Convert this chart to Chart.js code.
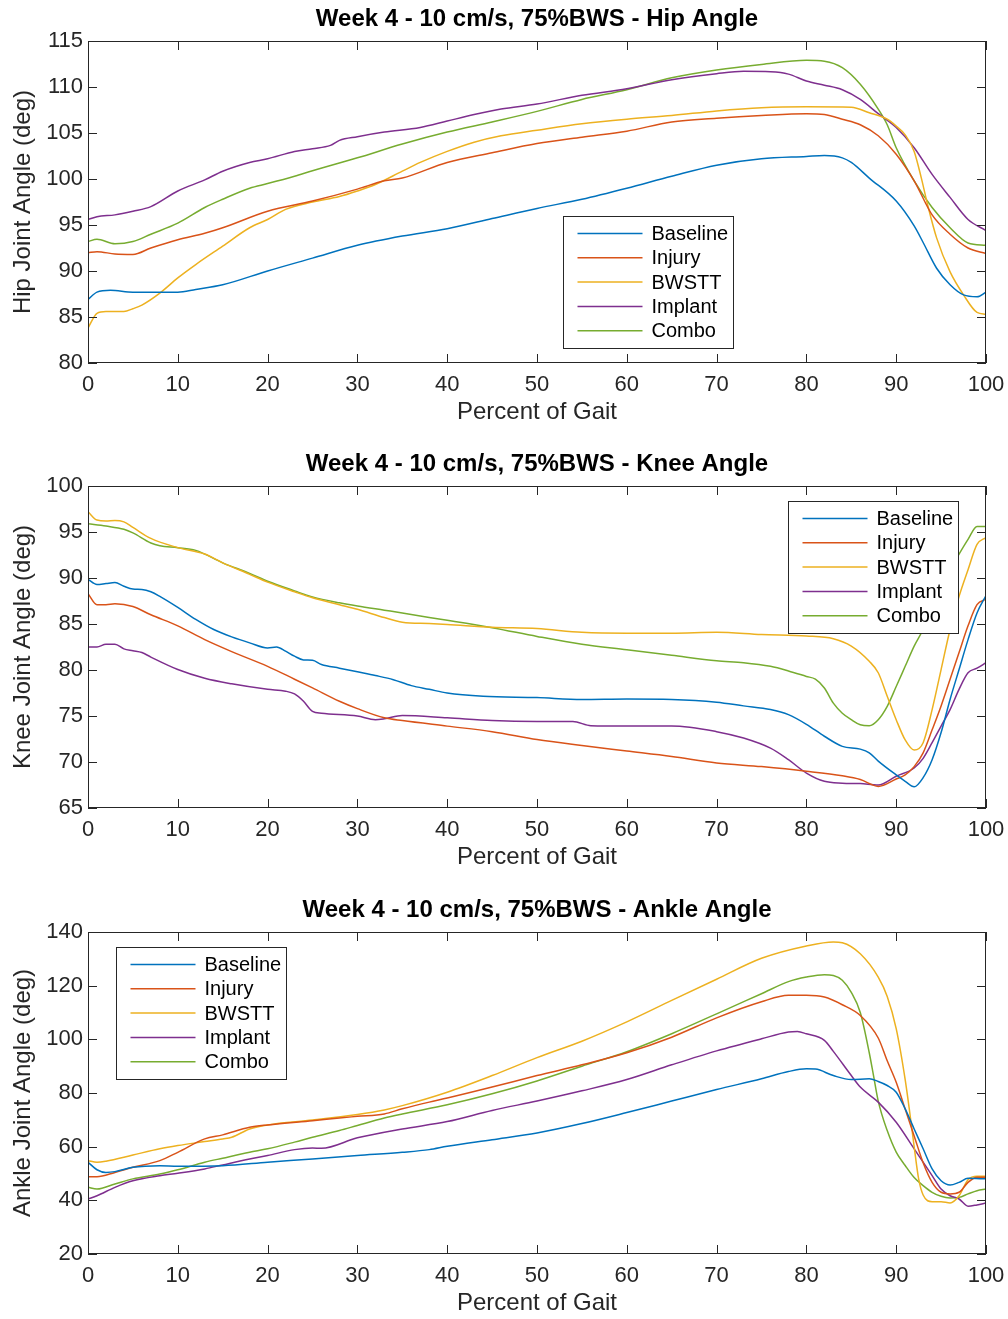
<!DOCTYPE html>
<html>
<head>
<meta charset="utf-8">
<script src="https://cdn.jsdelivr.net/npm/chart.js@4/dist/chart.umd.min.js"></script>
<style>
  html, body { margin: 0; padding: 0; background: #fff; overflow: hidden; }
  canvas { position: absolute; left: 0; }
</style>
</head>
<body>
<canvas id="hipChart" width="1008" height="440" style="top:0px"></canvas>
<canvas id="kneeChart" width="1008" height="440" style="top:445px"></canvas>
<canvas id="ankleChart" width="1008" height="440" style="top:891px"></canvas>
<script>
const FONT = "'Liberation Sans', Arial, Helvetica, sans-serif";
const seriesNames = ["Baseline", "Injury", "BWSTT", "Implant", "Combo"];
const seriesColors = ["#0072BD", "#D95319", "#EDB120", "#7E2F8E", "#77AC30"];
const xLabel = "Percent of Gait";

// [percent of gait, angle in deg]
const hipBaseline = [[0,86.9],[1,87.7],[2.5,87.9],[5,87.7],[10,87.7],[12,88.0],[15,88.5],[20,90.0],[25,91.4],[30,92.8],[35,93.8],[40,94.6],[45,95.7],[50,96.8],[55,97.8],[60,99.0],[65,100.3],[70,101.5],[75,102.2],[80,102.45],[82,102.55],[84,102.3],[85,101.8],[87,100.1],[90,97.6],[92,94.9],[93,93.1],[94.5,90.3],[96,88.5],[97.5,87.4],[99,87.2],[100,87.7]];
const hipInjury = [[0,92.0],[1,92.1],[3,91.85],[5,91.8],[7,92.5],[10,93.4],[13,94.1],[15,94.7],[20,96.5],[25,97.6],[30,98.9],[33,99.8],[35,100.1],[40,101.8],[45,102.85],[50,103.85],[55,104.55],[60,105.2],[65,106.2],[70,106.6],[75,106.9],[80,107.1],[82,107.0],[84,106.5],[86,105.9],[88,104.7],[90,102.7],[92,99.8],[94,96.1],[96,94.0],[98,92.5],[100,91.9]];
const hipBWSTT = [[0,83.8],[1,85.4],[2,85.6],[4,85.6],[5,85.9],[6,86.3],[8,87.6],[10,89.25],[12,90.7],[15,92.7],[18,94.7],[20,95.6],[22,96.7],[25,97.5],[28,98.1],[30,98.7],[32,99.4],[35,100.85],[37,101.8],[40,103.0],[43,104.0],[46,104.7],[50,105.3],[55,106.0],[60,106.5],[65,106.9],[70,107.4],[75,107.75],[80,107.85],[85,107.8],[87,107.2],[89,106.5],[90,105.75],[91,104.8],[92,103.0],[92.8,100.1],[93.5,97.2],[94.5,93.6],[96,89.9],[97.5,87.4],[99,85.5],[100,85.3]];
const hipImplant = [[0,95.6],[1,95.9],[3,96.1],[5,96.5],[7,97.0],[10,98.7],[13,99.9],[15,100.85],[18,101.8],[20,102.2],[23,103.0],[25,103.3],[27,103.65],[28,104.2],[30,104.6],[33,105.1],[37,105.6],[40,106.3],[43,107.0],[46,107.6],[50,108.15],[55,109.1],[60,109.8],[65,110.8],[70,111.45],[73,111.7],[76,111.65],[78,111.4],[80,110.65],[82,110.2],[84,109.7],[86,108.65],[88,107.1],[90,105.6],[92,103.4],[94,100.5],[96,98.0],[98,95.6],[100,94.4]];
const hipCombo = [[0,93.2],[1,93.45],[3,92.95],[5,93.2],[7,94.0],[10,95.2],[13,96.9],[15,97.8],[18,99.0],[20,99.5],[23,100.3],[25,100.9],[30,102.3],[35,103.8],[40,105.1],[45,106.2],[50,107.35],[55,108.65],[60,109.7],[65,111.0],[70,111.85],[75,112.45],[80,112.9],[82,112.8],[84,112.1],[86,110.3],[88,107.6],[89,105.9],[90,103.4],[92,99.8],[94,96.9],[96,94.7],[98,93.05],[100,92.8]];

const kneeBaseline = [[0,89.85],[1,89.3],[2,89.4],[3,89.5],[4,89.1],[5,88.8],[6,88.75],[7,88.5],[8,88.0],[10,86.8],[12,85.5],[14,84.4],[16,83.6],[18,82.95],[20,82.4],[21,82.5],[22,82.05],[23,81.5],[24,81.1],[25,81.05],[26,80.6],[28,80.2],[30,79.8],[32,79.4],[34,78.95],[36,78.3],[38,77.9],[40,77.5],[44,77.15],[50,77.0],[55,76.8],[60,76.85],[65,76.8],[70,76.5],[73,76.1],[76,75.7],[78,75.15],[80,74.1],[82,72.8],[84,71.7],[86,71.4],[87,71.0],[88,70.1],[90,68.6],[91,67.9],[92,67.3],[93,68.3],[94,70.25],[95,73.2],[96,76.8],[97,80.05],[98,83.3],[99,86.2],[100,88.1]];
const kneeInjury = [[0,88.3],[1,87.1],[2,87.1],[3,87.2],[5,86.9],[7,86.0],[10,84.8],[13,83.3],[16,82.0],[20,80.4],[23,79.0],[25,78.05],[28,76.6],[30,75.8],[33,74.8],[35,74.5],[40,73.9],[45,73.3],[50,72.45],[55,71.8],[60,71.2],[65,70.6],[70,69.9],[75,69.5],[80,69.0],[84,68.5],[86,68.1],[88,67.35],[90,68.15],[91,68.6],[92,69.5],[93,71.0],[94,73.5],[95,76.1],[96,79.0],[97,81.9],[98,84.8],[99,87.1],[100,87.7]];
const kneeBWSTT = [[0,97.2],[1,96.3],[2,96.2],[3,96.25],[4,96.1],[5,95.5],[7,94.3],[10,93.3],[13,92.6],[15,91.65],[18,90.4],[20,89.55],[23,88.5],[25,87.85],[28,87.1],[30,86.6],[33,85.7],[35,85.2],[38,85.05],[40,84.95],[45,84.65],[50,84.5],[55,84.1],[60,84.0],[65,84.0],[70,84.1],[75,83.85],[80,83.7],[83,83.4],[85,82.6],[87,80.95],[88,79.7],[89,77.15],[90,74.6],[91,72.4],[92,71.3],[93,72.1],[94,75.7],[95,80.05],[96,84.4],[97,88.0],[98,90.9],[99,93.65],[100,94.4]];
const kneeImplant = [[0,82.5],[1,82.5],[2,82.8],[3,82.8],[4,82.3],[5,82.1],[6,81.9],[7,81.4],[10,80.05],[13,79.1],[16,78.5],[20,77.9],[22,77.7],[23,77.4],[24,76.6],[25,75.5],[26,75.3],[30,75.0],[32,74.6],[33,74.7],[35,75.05],[40,74.8],[45,74.5],[50,74.4],[54,74.4],[56,73.95],[60,73.9],[65,73.9],[70,73.3],[73,72.6],[76,71.5],[78,70.25],[80,68.8],[82,67.9],[84,67.7],[86,67.65],[88,67.5],[90,68.45],[92,69.35],[93,70.4],[94,72.1],[95,73.9],[96,75.7],[97,77.9],[98,79.7],[99,80.2],[100,80.8]];
const kneeCombo = [[0,95.9],[2,95.65],[4,95.3],[5,94.9],[7,93.8],[8,93.5],[10,93.3],[12,93.0],[15,91.65],[18,90.5],[20,89.65],[23,88.6],[25,87.95],[28,87.3],[30,86.95],[33,86.5],[35,86.2],[38,85.7],[40,85.4],[45,84.6],[50,83.65],[55,82.8],[60,82.2],[65,81.6],[70,81.0],[73,80.8],[76,80.4],[78,79.9],[80,79.3],[81,79.0],[82,78.05],[83,76.4],[84,75.3],[85,74.6],[86,74.05],[87,73.95],[88,74.6],[89,76.05],[90,78.2],[91,80.4],[92,82.6],[93,84.4],[94,86.6],[95,88.75],[96,90.9],[97,92.6],[98,94.2],[99,95.6],[100,95.6]];

const ankleBaseline = [[0,54.2],[1,51.4],[2,50.4],[3,50.7],[5,52.3],[8,52.9],[10,52.7],[15,52.9],[20,54.2],[25,55.4],[30,56.7],[35,57.9],[38,58.9],[40,60.15],[45,62.6],[50,65.1],[55,68.6],[60,72.7],[65,77.0],[70,81.3],[75,85.3],[78,88.0],[80,89.0],[81,88.9],[83,86.5],[85,85.0],[87,85.3],[88,84.3],[89,82.8],[90,80.3],[91,74.1],[92,66.6],[93,59.2],[94,51.7],[95,47.3],[96,45.7],[97,46.7],[98,48.2],[100,48.0]];
const ankleInjury = [[0,48.8],[1,48.8],[3,50.4],[5,52.3],[8,54.8],[10,57.9],[13,62.9],[15,64.4],[18,67.2],[20,68.1],[25,69.7],[28,70.7],[30,71.3],[33,72.2],[35,74.1],[38,76.6],[40,78.1],[45,82.2],[50,86.5],[55,90.5],[60,95.0],[65,100.8],[70,108.0],[75,114.0],[78,116.4],[80,116.4],[82,115.75],[84,112.9],[86,108.9],[88,100.5],[89,92.0],[90,84.0],[91,74.0],[92,64.0],[93,54.0],[94,46.7],[95,43.0],[96,42.4],[97,43.0],[98,46.7],[99,48.6],[100,48.6]];
const ankleBWSTT = [[0,54.8],[1,54.2],[2,54.6],[5,56.9],[8,59.2],[10,60.4],[13,61.9],[15,62.9],[16,63.5],[18,66.6],[20,68.1],[25,69.9],[30,72.0],[33,73.7],[35,75.3],[40,80.3],[45,86.5],[50,93.2],[55,99.3],[60,106.5],[65,114.5],[70,122.4],[75,130.2],[80,134.8],[83,136.3],[84,136.0],[86,131.9],[88,123.2],[89,116.0],[90,104.0],[91,85.0],[91.5,73.0],[92,60.0],[92.5,48.0],[93,42.0],[94,39.5],[95,39.5],[96,39.0],[97,41.7],[98,47.7],[99,49.0],[100,49.0]];
const ankleImplant = [[0,40.5],[1,41.7],[3,44.85],[5,47.3],[8,49.2],[10,50.1],[13,51.7],[15,53.2],[18,55.4],[20,56.7],[23,58.9],[25,59.5],[26,59.4],[30,63.3],[35,66.6],[40,69.35],[45,73.5],[50,77.0],[55,80.8],[60,85.0],[65,90.5],[70,95.7],[75,100.2],[78,102.7],[79,102.9],[80,102.05],[82,99.6],[83,95.5],[85,86.5],[86,82.2],[88,76.6],[90,69.1],[92,59.2],[94,49.2],[95,44.2],[96,41.7],[97,40.5],[98,37.8],[99,38.3],[100,39.0]];
const ankleCombo = [[0,44.85],[1,44.2],[3,46.1],[5,48.0],[8,49.8],[10,51.4],[13,54.2],[15,55.7],[18,57.9],[20,59.2],[23,61.7],[25,63.5],[28,66.0],[30,67.9],[33,70.7],[35,72.2],[40,75.6],[45,79.7],[50,84.5],[55,90.0],[60,95.4],[65,102.1],[70,109.5],[75,117.0],[78,121.5],[80,123.2],[82,124.1],[83,123.8],[84,122.0],[85,117.5],[86,110.0],[87,95.0],[87.5,86.0],[88,77.0],[89,66.0],[90,58.0],[91,53.0],[92,48.5],[93,45.5],[94,43.0],[95,41.5],[96,40.9],[97,41.1],[98,42.4],[99,43.6],[100,44.2]];

// axes box with inward ticks on all four sides, like the original figure
const matlabBox = {
  id: "matlabBox",
  afterDatasetsDraw(chart) {
    const { ctx, chartArea: a, scales } = chart;
    const len = 9;
    ctx.save();
    ctx.strokeStyle = "#262626";
    ctx.lineWidth = 1;
    ctx.beginPath();
    scales.x.ticks.forEach((t) => {
      const px = Math.round(scales.x.getPixelForValue(t.value)) + 0.5;
      ctx.moveTo(px, a.bottom);
      ctx.lineTo(px, a.bottom - len);
      ctx.moveTo(px, a.top);
      ctx.lineTo(px, a.top + len);
    });
    scales.y.ticks.forEach((t) => {
      const py = Math.round(scales.y.getPixelForValue(t.value)) + 0.5;
      ctx.moveTo(a.left, py);
      ctx.lineTo(a.left + len, py);
      ctx.moveTo(a.right, py);
      ctx.lineTo(a.right - len, py);
    });
    ctx.stroke();
    ctx.strokeRect(a.left + 0.5, a.top + 0.5, a.width - 1, a.height - 1);
    ctx.restore();
  },
};

const boxLegend = {
  id: "boxLegend",
  afterDraw(chart, args, opts) {
    const { ctx, chartArea } = chart;
    const left = Math.round(chartArea.left + opts.left) + 0.5;
    const top = Math.round(chartArea.top + opts.top) + 0.5;
    ctx.save();
    ctx.fillStyle = "#fff";
    ctx.fillRect(left, top, 170, 132);
    ctx.strokeStyle = "#262626";
    ctx.lineWidth = 1;
    ctx.strokeRect(left, top, 170, 132);
    ctx.font = "20px " + FONT;
    ctx.textBaseline = "middle";
    chart.data.datasets.forEach((ds, i) => {
      const y = top + 17 + i * 24.3;
      ctx.strokeStyle = ds.borderColor;
      ctx.lineWidth = 1.5;
      ctx.beginPath();
      ctx.moveTo(left + 14, y);
      ctx.lineTo(left + 79, y);
      ctx.stroke();
      ctx.fillStyle = "#000";
      ctx.fillText(ds.label, left + 88, y + 1);
    });
    ctx.restore();
  },
};

function buildChart(id, title, yLabel, yMin, yMax, yStep, series, legendPos) {
  return new Chart(document.getElementById(id), {
    type: "line",
    data: {
      datasets: series.map((s, i) => ({
        label: seriesNames[i],
        data: s.map(([x, y]) => ({ x, y })),
        borderColor: seriesColors[i],
        borderWidth: 1.5,
        pointRadius: 0,
        fill: false,
        cubicInterpolationMode: "monotone",
      })),
    },
    options: {
      responsive: false,
      animation: false,
      events: [],
      layout: { padding: { top: 5, right: 22, bottom: 0, left: 0 } },
      plugins: {
        legend: { display: false },
        tooltip: { enabled: false },
        title: {
          display: true,
          text: title,
          fullSize: false,
          color: "#000",
          font: { family: FONT, size: 24, weight: "bold" },
          padding: { top: 0, bottom: 7.2 },
        },
        boxLegend: legendPos,
      },
      scales: {
        x: {
          type: "linear",
          min: 0,
          max: 100,
          grid: { display: false, drawTicks: false },
          border: { display: false },
          ticks: {
            stepSize: 10,
            autoSkip: false,
            maxRotation: 0,
            padding: 9,
            color: "#262626",
            font: { family: FONT, size: 22 },
          },
          title: {
            display: true,
            text: xLabel,
            color: "#262626",
            font: { family: FONT, size: 24 },
            padding: { top: 0, bottom: 13.6 },
          },
          afterFit: (s) => {
            s.height = 77;
            s.paddingLeft = 0;
            s.paddingRight = 0;
          },
        },
        y: {
          min: yMin,
          max: yMax,
          grid: { display: false, drawTicks: false },
          border: { display: false },
          ticks: {
            stepSize: yStep,
            autoSkip: false,
            padding: 5,
            color: "#262626",
            font: { family: FONT, size: 22 },
          },
          title: {
            display: true,
            text: yLabel,
            color: "#262626",
            font: { family: FONT, size: 24 },
            padding: { top: 9, bottom: 0 },
          },
          afterFit: (s) => {
            s.width = 88;
            s.paddingTop = 0;
            s.paddingBottom = 0;
          },
        },
      },
    },
    plugins: [matlabBox, boxLegend],
  });
}

buildChart("hipChart", "Week 4 - 10 cm/s, 75%BWS - Hip Angle", "Hip Joint Angle (deg)",
  80, 115, 5, [hipBaseline, hipInjury, hipBWSTT, hipImplant, hipCombo], { left: 475, top: 175 });
buildChart("kneeChart", "Week 4 - 10 cm/s, 75%BWS - Knee Angle", "Knee Joint Angle (deg)",
  65, 100, 5, [kneeBaseline, kneeInjury, kneeBWSTT, kneeImplant, kneeCombo], { left: 700, top: 15 });
buildChart("ankleChart", "Week 4 - 10 cm/s, 75%BWS - Ankle Angle", "Ankle Joint Angle (deg)",
  20, 140, 20, [ankleBaseline, ankleInjury, ankleBWSTT, ankleImplant, ankleCombo], { left: 28, top: 15 });
</script>
</body>
</html>
